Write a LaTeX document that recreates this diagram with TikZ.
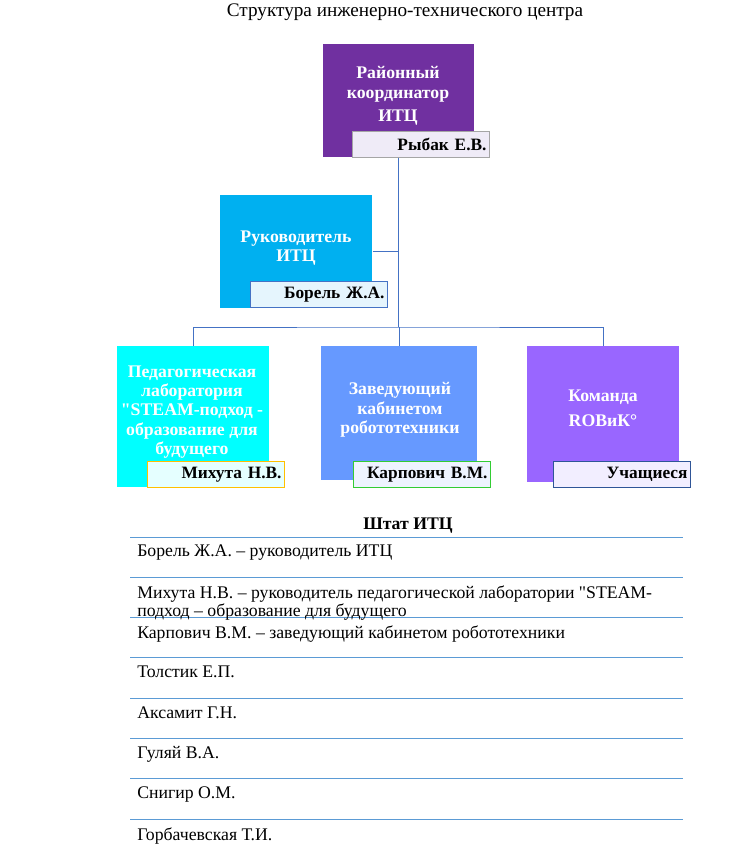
\documentclass[tikz,border=0pt]{standalone}
\usepackage{fontspec}
\setmainfont{Liberation Serif}[Ligatures=TeXOff]
\usetikzlibrary{positioning}

\definecolor{coordpurple}{HTML}{7030A0}
\definecolor{headblue}{HTML}{00B0F0}
\definecolor{labcyan}{HTML}{00FFFF}
\definecolor{cabblue}{HTML}{6699FF}
\definecolor{teamviolet}{HTML}{9966FF}
\definecolor{linkblue}{HTML}{4472C4}
\definecolor{rowblue}{HTML}{5B9BD5}

\begin{document}
\begin{tikzpicture}[x=0.75pt,y=-0.75pt,
    unit/.style={rectangle,anchor=north west,inner sep=0pt,draw=none},
    unittext/.style={text=white,font=\bfseries\fontsize{13.3}{14.5}\selectfont,align=center,inner sep=0pt},
    namebox/.style={rectangle,anchor=north west,line width=0.75pt,minimum width=137*0.75pt,
      minimum height=26*0.75pt,text width=131*0.75pt,inner xsep=3*0.75pt,inner ysep=0pt,
      align=right,font=\bfseries\fontsize{13}{14}\selectfont},
    link/.style={draw=linkblue,line width=0.75pt},
    staffline/.style={draw=rowblue,line width=0.75pt},
    staff/.style={anchor=north west,inner sep=0pt,align=left,font=\fontsize{13.3}{12}\selectfont}]
    \useasboundingbox (0,0) rectangle (745,861);

    \node[font=\fontsize{14.4}{16}\selectfont] (title) at (405,12) {Структура инженерно-технического центра};

    % units
    \node[unit,fill=coordpurple,minimum width=151*0.75pt,minimum height=113*0.75pt] (coord) at (323,44) {};
    \node[unit,fill=headblue,minimum width=152*0.75pt,minimum height=113*0.75pt]    (head)  at (220,195) {};
    \node[unit,fill=labcyan,minimum width=152*0.75pt,minimum height=141*0.75pt]     (lab)   at (117,346) {};
    \node[unit,fill=cabblue,minimum width=156*0.75pt,minimum height=134*0.75pt]     (cab)   at (321,346) {};
    \node[unit,fill=teamviolet,minimum width=152*0.75pt,minimum height=136*0.75pt]  (team)  at (527,346) {};

    \node[unittext] (coordtext) at (398,96)  {Районный\\координатор\\[3pt]ИТЦ};
    \node[unittext] (headtext)  at (296,248) {Руководитель\\ИТЦ};
    \node[unittext] (labtext)   at (192,412) {Педагогическая\\лаборатория\\"STEAM-подход -\\образование для\\будущего};
    \node[unittext] (cabtext)   at (400,410) {Заведующий\\кабинетом\\робототехники};
    \node[unittext] (teamtext)  at (603,408) {Команда\\[4pt]ROBиК°};

    % names
    \node[namebox,fill={rgb,255:red,239;green,235;blue,247},draw={rgb,255:red,165;green,165;blue,165}] (coordname) at (352,131) {Рыбак Е.В.};
    \node[namebox,fill={rgb,255:red,229;green,245;blue,253},draw=linkblue]  (headname) at (250,281) {Борель Ж.А.};
    \node[namebox,fill={rgb,255:red,229;green,255;blue,255},draw={rgb,255:red,255;green,192;blue,0}] (labname) at (147,461) {Михута Н.В.};
    \node[namebox,fill={rgb,255:red,238;green,243;blue,255},draw={rgb,255:red,51;green,204;blue,51}] (cabname) at (353,461) {Карпович В.М.};
    \node[namebox,fill={rgb,255:red,242;green,238;blue,255},draw={rgb,255:red,47;green,85;blue,151}] (teamname) at (553,461) {Учащиеся};

    % links
    \coordinate (bus) at (398,327);
    \draw[link] (coord.south) -- (coord.south |- bus);
    \draw[link] (head.east) -- (head.east -| coord.south);
    \draw[link] (lab.north) |- (bus) -| (team.north);
    \draw[link] (cab.north) -- (cab.north |- bus);

    % staff table
    \node[font=\bfseries\fontsize{13.3}{14}\selectfont] (staffhead) at (408,526) {Штат ИТЦ};
    \foreach \i in {0,...,7}
      \draw[staffline] (130,537+40.3*\i) -- (683,537+40.3*\i);
    \foreach \who [count=\i from 0] in {{Борель Ж.А. – руководитель ИТЦ},
        {Михута Н.В. – руководитель педагогической лаборатории "STEAM-\\подход – образование для будущего},
        {Карпович В.М. – заведующий кабинетом робототехники},
        {Толстик Е.П.},{Аксамит Г.Н.},{Гуляй В.А.},{Снигир О.М.},{Горбачевская Т.И.}}
      \node[staff] (staff\i) at (137,545+40.3*\i) {\who};
\end{tikzpicture}
\end{document}
